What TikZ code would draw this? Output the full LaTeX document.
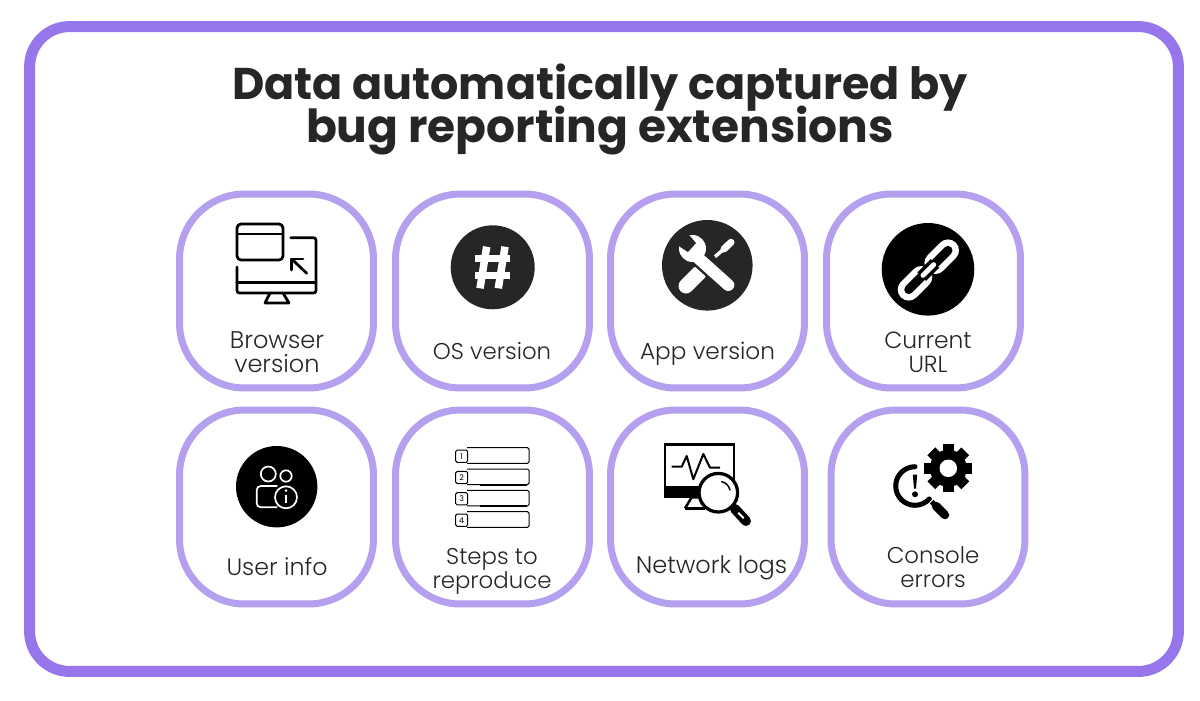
\documentclass[tikz,border=0pt]{standalone}
\usepackage{fontspec}
\setmainfont{Poppins}
\newfontfamily\lightfont{Poppins Light}
\definecolor{framecol}{HTML}{9775EA}
\definecolor{cardcol}{HTML}{B5A0EF}
\definecolor{inkcol}{HTML}{262626}
\tikzset{
	pagebox/.style={draw=framecol,fill=white,line width=0.22cm,rounded corners=0.8cm,minimum width=22.98cm,minimum height=12.9cm},
	cardbox/.style={draw=cardcol,line width=0.14cm,rounded corners=1.3cm,minimum width=3.88cm,minimum height=3.88cm},
	cardtext/.style={align=center,text=inkcol,font=\lightfont\fontsize{#1}{13.5}\selectfont},
	cardtext/.default=13,
	titletext/.style={align=center,text=inkcol,font=\bfseries\fontsize{25.3}{24}\selectfont},
	icon/.style={line width=0.055cm,line join=round,line cap=round},
	sketch/.style={line width=0.02cm,rounded corners=0.03cm}
}
\begin{document}
\begin{tikzpicture}[x=0.02cm,y=-0.02cm]
	\useasboundingbox (0,0) rectangle (1200,700);
	\fill[white] (0,0) rectangle (1200,700);
	\node[pagebox] (page) at (604,349) {};
	\node[titletext] (title) at (600,109.5) {Data automatically captured by\\[-3.8pt]{\fontsize{25.9}{24}\selectfont bug reporting extensions}};
	% cards, first row
	\node[cardbox] (browser) at (276.5,291) {};
	\node[cardbox] (os) at (492.5,291) {};
	\node[cardbox] (app) at (707.5,291) {};
	\node[cardbox] (url) at (923.5,291) {};
	% cards, second row
	\node[cardbox] (user) at (276.5,507) {};
	\node[cardbox] (steps) at (492.5,507) {};
	\node[cardbox] (network) at (707.5,507) {};
	\node[cardbox] (console) at (928,507) {};
	% labels
	\node[cardtext=13.7] (browserlabel) at (277,352.5) {Browser\\version};
	\node[cardtext] (oslabel) at (492,351) {OS version};
	\node[cardtext=13.2] (applabel) at (707.5,354) {App version};
	\node[cardtext=13.3] (urllabel) at (928,352.5) {Current\\URL};
	\node[cardtext=13.5] (userlabel) at (277,567) {User info};
	\node[cardtext] (stepslabel) at (492,571.5) {Steps to\\reproduce};
	\node[cardtext=13.7] (networklabel) at (711.5,568) {Network logs};
	\node[cardtext] (consolelabel) at (933,567) {Console\\errors};
	% browser icon
	\draw[icon,rounded corners=0.08cm] (237,224) rectangle (283,260);
	\draw[icon] (237,234) -- (283,234);
	\draw[icon,rounded corners=0.05cm] (290.7,237.7) -- (316,237.7) -- (316,293) -- (237,293) -- (237,267);
	\draw[icon] (237,282.7) -- (316,282.7);
	\draw[icon] (270,293) -- (265,303) -- (289,303) -- (283,293);
	\draw[icon] (306.7,273.3) -- (291.7,259);
	\draw[icon] (291.7,270) -- (291.7,259) -- (303,259);
	% hash icon
	\fill[inkcol] (492.7,267.3) circle (0.84cm);
	\foreach \x in {0,18.3} % the two slanted bars
		\draw[white,line width=0.15cm] (486.7+\x,246.7) -- (480+\x,288.3);
	\foreach \y in {258.3,275} % the two flat bars
		\draw[white,line width=0.14cm] (475,\y) -- (510,\y);
	% tools icon
	\fill[inkcol] (707.3,265.3) circle (0.906cm);
	\draw[white,line width=0.3cm,line cap=round] (686,286) -- (699,273);
	\draw[white,line width=0.07cm] (715,256.7) -- (724,249);
	\draw[white,line width=0.14cm,line cap=round] (724,249) -- (731,242.3);
	\draw[inkcol,line width=0.34cm] (696.7,256.7) -- (728.3,285);
	\draw[white,line width=0.24cm,line cap=round] (696.7,256.7) -- (728.3,285);
	\fill[white] (692.5,248.5) circle (0.27cm);
	\fill[inkcol] (674,243) -- (686,231.5) -- (696,243) -- (688,252) -- cycle;
	% chain icon
	\fill[black] (928,269.3) circle (0.926cm);
	\foreach \x/\y in {941.7/256.7,915/283.3} { % the two links
		\draw[white,line width=0.44cm,line cap=round] (\x-6.3,\y+6.3) -- (\x+6.3,\y-6.3);
		\draw[black,line width=0.18cm,line cap=round] (\x-6.3,\y+6.3) -- (\x+6.3,\y-6.3);
	}
	\draw[black,line width=0.24cm] (921.7,276.7) -- (935,263.3);
	\draw[white,line width=0.1cm,line cap=round] (923,275.3) -- (933.7,264.7);
	% user icon
	\fill[black] (276.7,486.7) circle (0.814cm);
	\begin{scope}[white,line width=0.034cm]
		\draw (268.3,474) circle (0.15cm);
		\draw (286,476) circle (0.114cm);
		\draw[rounded corners=0.08cm] (277.3,486) -- (256.7,486) -- (256.7,507.3) -- (277.3,507.3);
		\draw (286,497.3) circle (0.22cm);
		\fill (286,490.7) circle (0.03cm);
		\draw (286,494.5) -- (286,502.7);
	\end{scope}
	% steps icon
	\foreach \n in {1,2,3,4} {
		\begin{scope}[yshift={-0.4267cm*(\n-1)}]
			\draw[sketch] (467,447.7) -- (529,447.7) -- (529,463.3) -- (467,463.3);
			\draw[line width=0.035cm] (480,463.5) -- (527,463.5);
			\draw[sketch,fill=white] (455.7,450) rectangle (467.7,462.3);
			\node[font=\fontsize{4.5}{5}\selectfont,inner sep=0pt] (stepnum\n) at (461.7,456.2) {\n};
		\end{scope}
	}
	% network icon
	\draw[line width=0.05cm] (700,496.7) -- (665,496.7) -- (665,444.3) -- (734,444.3) -- (734,480);
	\fill[black] (665,486) rectangle (705,496.7);
	\draw[line width=0.05cm,line join=round] (685,508.3) -- (691.7,497.3) -- (700,497.3);
	\draw[line width=0.05cm] (685,508.3) -- (705,508.3);
	\draw[line width=0.04cm,line join=round] (671.7,466.7) -- (681.7,466.7) -- (686.7,456) -- (693.3,479.3) -- (703.3,454) -- (710,467.7) -- (720,467.7);
	\draw[line width=0.065cm,fill=white] (718.3,492.7) circle (0.386cm);
	\draw[line width=0.03cm,line cap=round] (721.7,481.7) .. controls (726,482.5) and (729,486) .. (730,490);
	\draw[line width=0.05cm] (731,505) -- (735,509);
	\draw[line width=0.2cm,line cap=round] (735,509) -- (746,521);
	\draw[white,line width=0.04cm,line cap=round] (738.5,513) -- (743.5,518);
	% console icon
	\draw[line width=0.1cm,line cap=round] (915,466.7) arc[start angle=90,end angle=318,radius=0.386cm];
	\draw[line width=0.1cm] (931.7,501.7) -- (936,506);
	\draw[line width=0.17cm,line cap=round] (936,506) -- (945,515);
	\fill[black] (912.8,474.5) -- (917.2,474.5) -- (916,488.5) -- (914,488.5) -- cycle;
	\fill[black] (915,494.3) circle (0.06cm);
	\fill[white] (948.3,468.3) circle (0.6cm);
	\foreach \a in {0,45,90,135} % gear teeth
		\draw[line width=0.22cm] ({948.3+24*cos(\a)},{468.3+24*sin(\a)}) -- ({948.3-24*cos(\a)},{468.3-24*sin(\a)});
	\fill[black] (948.3,468.3) circle (0.37cm);
	\fill[white] (948.3,468.3) circle (0.175cm);
\end{tikzpicture}
\end{document}
